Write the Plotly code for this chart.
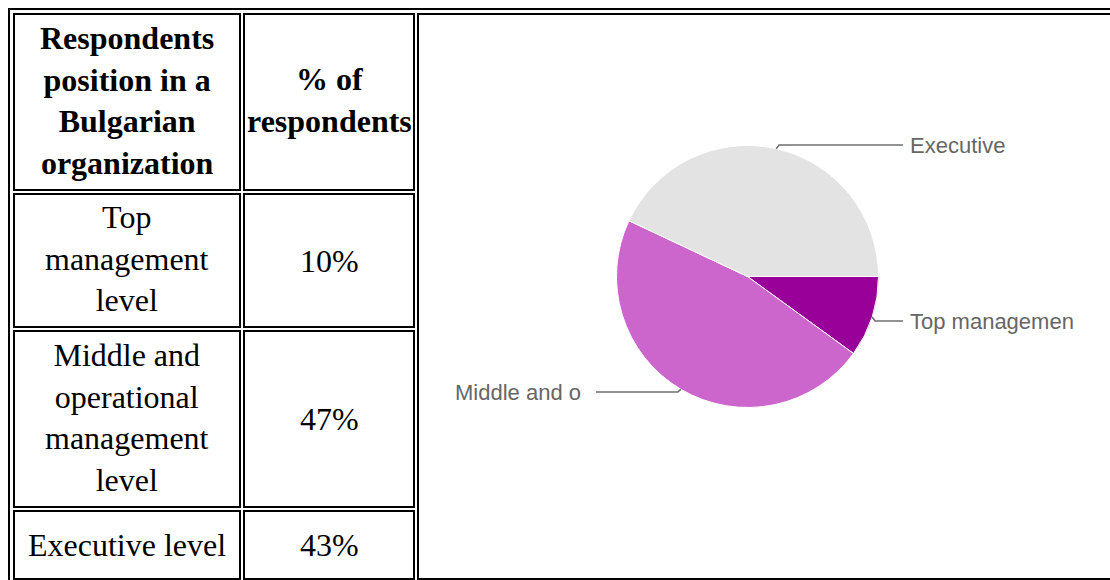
import math
import plotly.graph_objects as go

# ---------------- data ----------------
header_labels = ["Respondents<br>position in a<br>Bulgarian<br>organization", "% of<br>respondents"]
row_labels = ["Top<br>management<br>level",
              "Middle and<br>operational<br>management<br>level",
              "Executive level"]
percents = [10, 47, 43]
pie_labels = ["Top managemen", "Middle and o", "Executive"]
pie_colors = ["#990099", "#cc66cc", "#e3e3e3"]

# ---------------- layout constants ----------------
W, H = 1110, 580
col_x = [(14, 240), (244, 414)]          # cell border centre lines (x)
row_y = [(14, 190), (194, 327), (331, 507), (511, 579)]
chart_cell = (418, 14, 1125, 579)
outer = (9, 9, 1135, 600)

pie_cx, pie_cy, pie_r = 747.5, 276.5, 131
label_pos = {  # label anchor x, y, side
    "Top managemen": (908, 321, 1),
    "Middle and o": (583, 392, -1),
    "Executive": (908, 145, 1),
}
line_end = {1: 903, -1: 596}

fig = go.Figure()

# pie (positioned with pixel-exact domain)
fig.add_trace(go.Pie(
    values=percents, labels=pie_labels, sort=False, direction="clockwise",
    rotation=90, textinfo="none", hoverinfo="label+percent",
    marker=dict(colors=pie_colors, line=dict(color="#ffffff", width=1)),
    domain=dict(x=[(pie_cx - pie_r) / W, (pie_cx + pie_r) / W],
                y=[(H - pie_cy - pie_r) / H, (H - pie_cy + pie_r) / H]),
    showlegend=False,
))

shapes = []
annotations = []

def rect(x0, y0, x1, y1):
    shapes.append(dict(type="rect", xref="x", yref="y", x0=x0, y0=y0, x1=x1, y1=y1,
                       line=dict(color="black", width=2), fillcolor="rgba(0,0,0,0)"))

rect(*outer)
rect(*chart_cell)
for (y0, y1) in row_y:
    for (x0, x1) in col_x:
        rect(x0, y0, x1, y1)

serif = "Liberation Serif, Times New Roman, serif"

def cell_text(text, ci, ri, bold=False):
    x0, x1 = col_x[ci]
    y0, y1 = row_y[ri]
    dy = -2 if "<br>" in text else 0
    annotations.append(dict(
        x=(x0 + x1) / 2, y=(y0 + y1) / 2 + dy, xref="x", yref="y",
        text=f"<b>{text}</b>" if bold else text, showarrow=False,
        xanchor="center", yanchor="middle", align="center",
        font=dict(family=serif, size=32, color="black")))

for ci, h in enumerate(header_labels):
    cell_text(h, ci, 0, bold=True)
for ri, (lab, p) in enumerate(zip(row_labels, percents)):
    cell_text(lab, 0, ri + 1)
    cell_text(f"{p}%", 1, ri + 1)

# pie leader lines and labels, computed from slice mid-angles
total = sum(percents)
cum = 0
for lab, v in zip(pie_labels, percents):
    mid = (cum + v / 2) / total
    cum += v
    a = math.radians(mid * 360)
    ex = pie_cx + pie_r * math.cos(a)
    ey = pie_cy + pie_r * math.sin(a)
    lx, ly, side = label_pos[lab]
    bx = ex + side * 3
    shapes.append(dict(type="path", xref="x", yref="y",
                       path=f"M {ex:.1f},{ey:.1f} L {bx:.1f},{ly} L {line_end[side]},{ly}",
                       line=dict(color="#6f6f6f", width=1.6)))
    annotations.append(dict(
        x=lx, y=ly, xref="x", yref="y", text=lab, showarrow=False,
        xanchor="left" if side == 1 else "right", yanchor="middle",
        font=dict(family="Liberation Sans, Arial, sans-serif", size=22, color="#666666")))

fig.update_layout(
    width=W, height=H, margin=dict(l=0, r=0, t=0, b=0),
    paper_bgcolor="white", plot_bgcolor="white",
    xaxis=dict(range=[0, W], visible=False, fixedrange=True),
    yaxis=dict(range=[H, 0], visible=False, fixedrange=True),
    shapes=shapes, annotations=annotations,
)

fig.write_html("out.html")
